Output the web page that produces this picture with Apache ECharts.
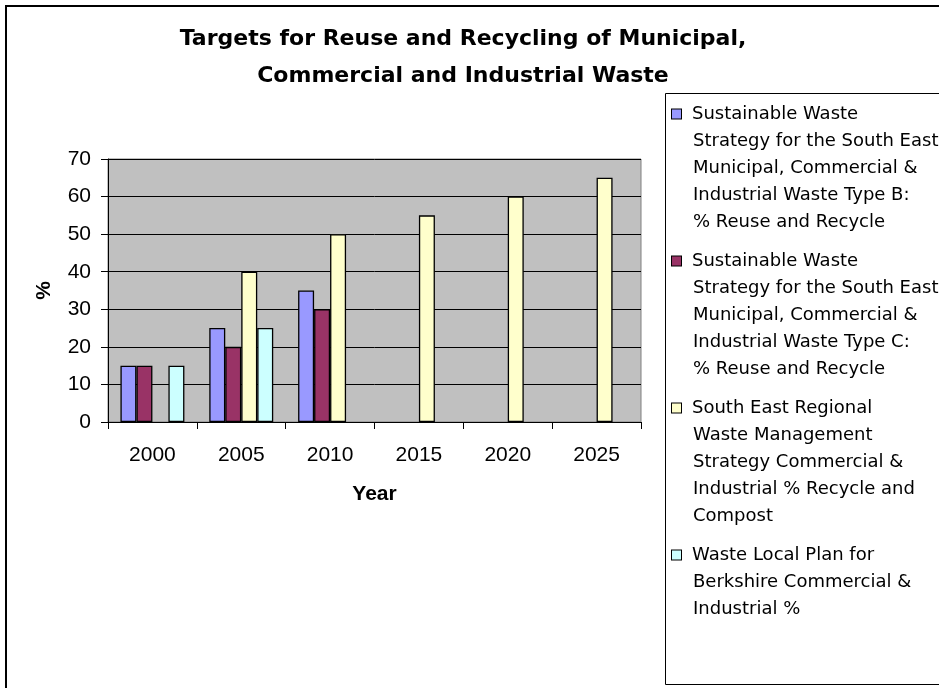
<!DOCTYPE html>
<html><head><meta charset="utf-8">
<script src="https://cdn.jsdelivr.net/npm/echarts@6/dist/echarts.min.js"></script>
<style>html,body{margin:0;padding:0;background:#fff}#c{width:939px;height:688px}</style>
</head><body><div id="c"></div>
<script>
const categories = ['2000', '2005', '2010', '2015', '2020', '2025'];
const seriesNames = [
  'Sustainable Waste Strategy for the South East Municipal, Commercial & Industrial Waste Type B: % Reuse and Recycle',
  'Sustainable Waste Strategy for the South East Municipal, Commercial & Industrial Waste Type C: % Reuse and Recycle',
  'South East Regional Waste Management Strategy Commercial & Industrial % Recycle and Compost',
  'Waste Local Plan for Berkshire Commercial & Industrial %'
];
const legendLines = [
  ['Sustainable Waste', 'Strategy for the South East', 'Municipal, Commercial &', 'Industrial Waste Type B:', '% Reuse and Recycle'],
  ['Sustainable Waste', 'Strategy for the South East', 'Municipal, Commercial &', 'Industrial Waste Type C:', '% Reuse and Recycle'],
  ['South East Regional', 'Waste Management', 'Strategy Commercial &', 'Industrial % Recycle and', 'Compost'],
  ['Waste Local Plan for', 'Berkshire Commercial &', 'Industrial %']
];
const typeB = [15, 25, 35, null, null, null];
const typeC = [15, 20, 30, null, null, null];
const regional = [null, 40, 50, 55, 60, 65];
const berkshire = [15, 25, null, null, null, null];
const seriesValues = [typeB, typeC, regional, berkshire];
const colors = ['#9999FF', '#993366', '#FFFFCC', '#CCFFFF'];
const titleText = 'Targets for Reuse and Recycling of Municipal,\nCommercial and Industrial Waste';
const yAxisName = '%';
const xAxisName = 'Year';

const LH = 27;
const rich = {
  gap: { width: 11, lineHeight: LH },
  ind: { width: 21, lineHeight: LH }
};
colors.forEach((c, i) => {
  rich['sq' + i] = { width: 9, height: 9, backgroundColor: c, borderColor: '#000', borderWidth: 1, lineHeight: LH };
});

const chart = echarts.init(document.getElementById('c'));
chart.setOption({
  animation: false,
  backgroundColor: '#ffffff',
  title: {
    text: titleText,
    left: 463, top: 21, padding: 0,
    textAlign: 'center',
    textStyle: { fontFamily: 'DejaVu Sans', fontWeight: 'bold', fontSize: 22, lineHeight: 37, color: '#000' }
  },
  graphic: [
    { type: 'rect', z: 0, shape: { x: 6, y: 6, width: 1000, height: 1000 }, style: { fill: null, stroke: '#000', lineWidth: 2 } },
    { type: 'rect', z: 0, shape: { x: 665.5, y: 93.5, width: 400, height: 591 }, style: { fill: '#fff', stroke: '#000', lineWidth: 1 } }
  ],
  legend: {
    orient: 'vertical',
    left: 667, top: 100.5, padding: 0,
    itemGap: 12,
    itemWidth: 0, itemHeight: 10,
    icon: 'none',
    selectedMode: false,
    data: seriesNames,
    formatter: function (name) {
      const idx = seriesNames.indexOf(name);
      return legendLines[idx].map((l, i) => i === 0 ? '{sq' + idx + '|}{gap|}' + l : '{ind|}' + l).join('\n');
    },
    textStyle: { fontFamily: 'DejaVu Sans', fontSize: 18, color: '#000', lineHeight: LH, rich: rich }
  },
  grid: {
    left: 108, top: 159, right: 298, bottom: 266,
    show: true, backgroundColor: '#C0C0C0', borderColor: '#808080', borderWidth: 1,
    containLabel: false, outerBoundsMode: 'none'
  },
  xAxis: {
    type: 'category',
    data: categories,
    name: xAxisName,
    nameLocation: 'middle',
    nameGap: 62,
    nameTextStyle: { fontFamily: 'Liberation Sans', fontWeight: 'bold', fontSize: 21, color: '#000' },
    axisLine: { show: true, lineStyle: { color: '#000', width: 1 } },
    axisTick: { show: true, length: 7, alignWithLabel: false, lineStyle: { color: '#000' } },
    axisLabel: { margin: 23, fontFamily: 'Liberation Sans', fontSize: 21, color: '#000' },
    splitLine: { show: false }
  },
  yAxis: {
    type: 'value',
    min: 0, max: 70, interval: 10,
    name: yAxisName,
    nameLocation: 'middle',
    nameRotate: 90,
    nameGap: 53,
    nameTextStyle: { fontFamily: 'Liberation Sans', fontWeight: 'bold', fontSize: 21, color: '#000' },
    axisLine: { show: true, lineStyle: { color: '#000', width: 1 } },
    axisTick: { show: true, length: 7, lineStyle: { color: '#000' } },
    axisLabel: { margin: 17, fontFamily: 'Liberation Sans', fontSize: 21, color: '#000' },
    splitLine: { show: true, lineStyle: { color: '#000', width: 1 } }
  },
  series: seriesValues.map((vals, i) => ({
    type: 'bar',
    name: seriesNames[i],
    data: vals,
    barGap: 0,
    barCategoryGap: '28%',
    itemStyle: { color: colors[i], borderColor: '#000', borderWidth: 1.3 }
  }))
});
</script></body></html>
